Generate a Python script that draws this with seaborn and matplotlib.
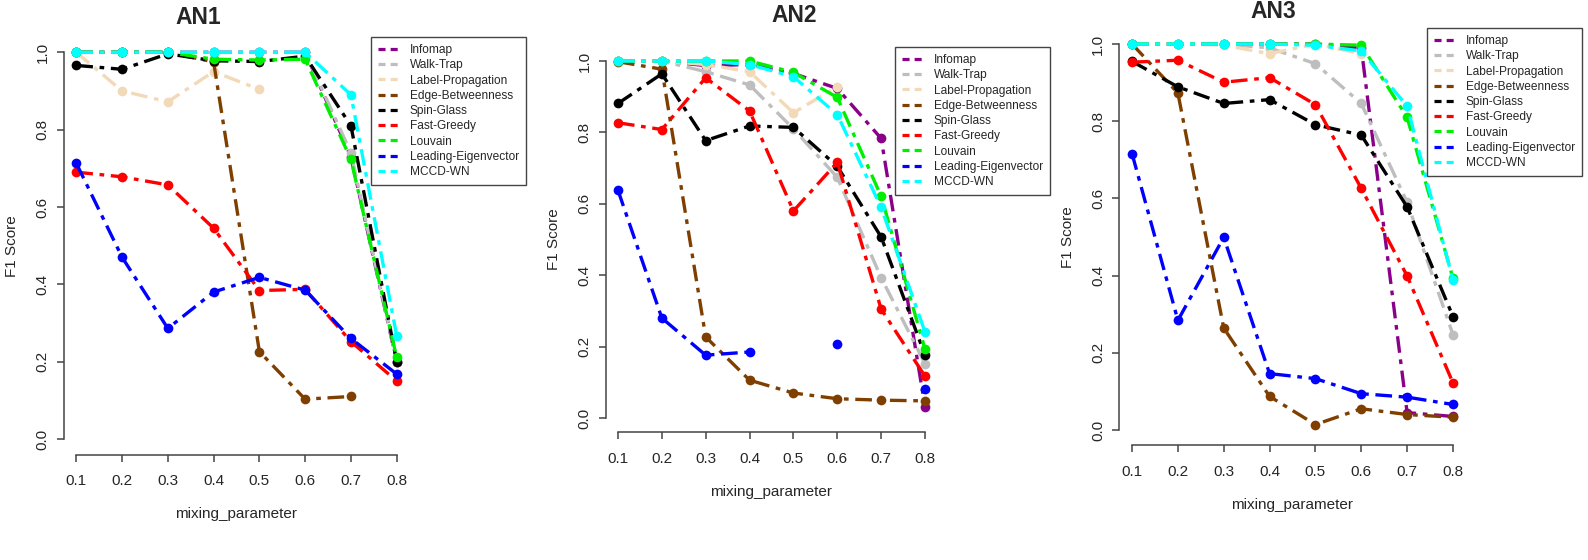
import numpy as np
import pandas as pd
import matplotlib
matplotlib.use("Agg")
import matplotlib.pyplot as plt
from matplotlib.lines import Line2D
import seaborn as sns

nan = np.nan

mixing = [0.1, 0.2, 0.3, 0.4, 0.5, 0.6, 0.7, 0.8]

methods = ["Infomap", "Walk-Trap", "Label-Propagation", "Edge-Betweenness",
           "Spin-Glass", "Fast-Greedy", "Louvain", "Leading-Eigenvector", "MCCD-WN"]
colors = ["#8B008B", "#BEBEBE", "#F2D9B8", "#7F3F00", "#000000",
          "#FF0000", "#00EE00", "#0000FF", "#00FFFF"]

an1 = {
    "Infomap":             [1.0, 1.0, 1.0, 1.0, 1.0, 1.0, 0.73, 0.20],
    "Walk-Trap":           [1.0, 1.0, 1.0, 1.0, 1.0, 1.0, 0.74, 0.20],
    "Label-Propagation":   [1.0, 0.90, 0.872, 0.95, 0.904, nan, nan, nan],
    "Edge-Betweenness":    [1.0, 1.0, 1.0, 0.975, 0.226, 0.103, 0.11, nan],
    "Spin-Glass":          [0.966, 0.956, 0.996, 0.978, 0.976, 0.99, 0.81, 0.20],
    "Fast-Greedy":         [0.69, 0.678, 0.657, 0.545, 0.384, 0.387, 0.252, 0.15],
    "Louvain":             [1.0, 1.0, 1.0, 0.982, 0.98, 0.982, 0.723, 0.211],
    "Leading-Eigenvector": [0.713, 0.47, 0.286, 0.38, 0.418, 0.385, 0.26, 0.168],
    "MCCD-WN":             [1.0, 1.0, 1.0, 1.0, 1.0, 1.0, 0.89, 0.267],
}

an2 = {
    "Infomap":             [1.0, 1.0, 0.987, 0.99, 0.965, 0.923, 0.783, 0.031],
    "Walk-Trap":           [1.0, 1.0, 0.97, 0.933, 0.81, 0.674, 0.393, 0.152],
    "Label-Propagation":   [1.0, 1.0, 0.99, 0.97, 0.855, 0.928, nan, nan],
    "Edge-Betweenness":    [0.998, 0.977, 0.227, 0.106, 0.07, 0.054, 0.05, 0.048],
    "Spin-Glass":          [0.881, 0.964, 0.777, 0.818, 0.814, 0.705, 0.507, 0.176],
    "Fast-Greedy":         [0.827, 0.808, 0.953, 0.86, 0.58, 0.716, 0.305, 0.117],
    "Louvain":             [1.0, 1.0, 1.0, 1.0, 0.968, 0.898, 0.621, 0.193],
    "Leading-Eigenvector": [0.638, 0.28, 0.176, 0.185, nan, 0.206, nan, 0.082],
    "MCCD-WN":             [1.0, 1.0, 1.0, 0.99, 0.956, 0.85, 0.59, 0.241],
}

an3 = {
    "Infomap":             [1.0, 1.0, 1.0, 1.0, 1.0, 0.99, 0.045, 0.035],
    "Walk-Trap":           [1.0, 1.0, 1.0, 0.99, 0.949, 0.846, 0.59, 0.247],
    "Label-Propagation":   [1.0, 1.0, 0.997, 0.975, 1.0, 0.975, nan, nan],
    "Edge-Betweenness":    [1.0, 0.873, 0.264, 0.087, 0.014, 0.055, 0.04, 0.033],
    "Spin-Glass":          [0.955, 0.889, 0.846, 0.856, 0.791, 0.764, 0.578, 0.294],
    "Fast-Greedy":         [0.953, 0.958, 0.901, 0.913, 0.843, 0.626, 0.399, 0.122],
    "Louvain":             [1.0, 1.0, 1.0, 1.0, 1.0, 0.997, 0.81, 0.393],
    "Leading-Eigenvector": [0.716, 0.284, 0.499, 0.146, 0.133, 0.094, 0.085, 0.066],
    "MCCD-WN":             [1.0, 1.0, 1.0, 1.0, 0.997, 0.982, 0.839, 0.389],
}

panels = [("AN1", an1), ("AN2", an2), ("AN3", an3)]

sns.set_style("ticks")
plt.rcParams["font.family"] = ["Liberation Sans", "DejaVu Sans"]

W, H = 1588, 560
fig = plt.figure(figsize=(W / 100, H / 100), dpi=100)

# pixel boxes of the plot regions (left, top, right, bottom), legend top-left, title centre
boxes = [(63.5, 36.8, 409.5, 454.5), (605.7, 46.7, 937.3, 432.3), (1119.2, 28.6, 1465.8, 445.4)]
legend_pos = [(371, 37), (895, 47), (1427, 28)]
title_pos = [(198, 17.5), (794, 15.5), (1273, 12)]

dotdash = (0, (5, 2, 1.4, 2))

for (title, data), (l, t, r, b), (lx, ly), (tx, ty) in zip(panels, boxes, legend_pos, title_pos):
    ax = fig.add_axes([l / W, (H - b) / H, (r - l) / W, (b - t) / H])
    for m, c in zip(methods, colors):
        df = pd.DataFrame({"mix": mixing, "f1": data[m]})
        df["run"] = df["f1"].isna().cumsum()
        df = df.dropna()
        for _, seg in df.groupby("run"):
            sns.lineplot(data=seg, x="mix", y="f1", ax=ax, color=c, lw=2.4,
                         linestyle=dotdash, marker="o", markersize=7,
                         markeredgecolor=c, markeredgewidth=0, sort=False)
    ax.set_xlim(0.072, 0.828)
    ax.set_ylim(-0.04, 1.04)
    ax.set_xticks(mixing)
    ax.set_xticklabels([f"{v:.1f}" for v in mixing])
    ax.set_yticks([0.0, 0.2, 0.4, 0.6, 0.8, 1.0])
    ax.set_yticklabels(["0.0", "0.2", "0.4", "0.6", "0.8", "1.0"], rotation=90, va="center")
    for s in ["top", "right"]:
        ax.spines[s].set_visible(False)
    ax.spines["left"].set_bounds(0, 1)
    ax.spines["bottom"].set_bounds(0.1, 0.8)
    for s in ["left", "bottom"]:
        ax.spines[s].set_color("#444444")
        ax.spines[s].set_linewidth(1.1)
    ax.tick_params(axis="both", length=5, width=1.1, color="#444444", labelsize=11, pad=5)
    ax.tick_params(axis="x", pad=9)
    ax.set_xlabel("mixing_parameter", fontsize=11, labelpad=14)
    ax.set_ylabel("F1 Score", fontsize=11, labelpad=12)
    fig.text(tx / W, 1 - ty / H, title, fontsize=16.5, fontweight="bold", ha="center", va="center")
    handles = [Line2D([], [], color=c, lw=2.3, linestyle=(0, (2.2, 1.6))) for c in colors]
    leg = ax.legend(handles, methods, loc="upper left", bbox_to_anchor=(lx / W, 1 - ly / H),
                    bbox_transform=fig.transFigure, fontsize=8.6, frameon=True, fancybox=False,
                    edgecolor="#444444", framealpha=1, handlelength=1.9, handletextpad=0.75,
                    borderpad=0.6, labelspacing=0.27, borderaxespad=0)
    leg.get_frame().set_linewidth(1.0)

fig.savefig("out.png", dpi=100)
